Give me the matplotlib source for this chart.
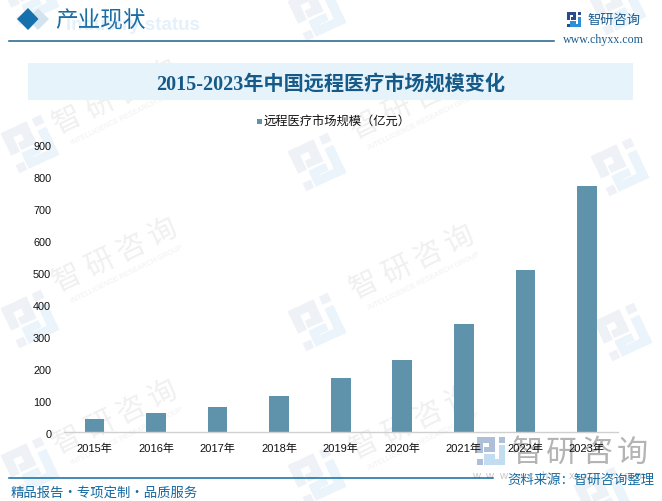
import math
import matplotlib
matplotlib.use("Agg")
import matplotlib.pyplot as plt
import matplotlib.transforms as mt
from matplotlib.patches import Rectangle, Polygon

years = ["2015年", "2016年", "2017年", "2018年", "2019年", "2020年", "2021年", "2022年", "2023年"]
market_size = [41, 60, 79, 113, 170, 225, 338, 507, 770]
y_ticks = [0, 100, 200, 300, 400, 500, 600, 700, 800, 900]
series_name = "远程医疗市场规模（亿元）"
chart_title = "2015-2023年中国远程医疗市场规模变化"
header = "产业现状"
header_en = "Industry status"
brand = "智研咨询"
brand_en = "INTELLIGENCE RESEARCH GROUP"
footer_left = "精品报告·专项定制·品质服务"
footer_right = "资料来源：智研咨询整理"
site = "www.chyxx.com"

W, H = 662, 502
CJK = ["Noto Sans CJK SC", "DejaVu Sans"]
SERIF = ["Liberation Serif", "Noto Sans CJK SC"]
MIXED = ["Liberation Sans", "Noto Sans CJK SC"]
plt.rcParams["font.family"] = CJK

fig = plt.figure(figsize=(W / 100, H / 100), dpi=100, facecolor="white")

bg = fig.add_axes([0, 0, 1, 1], zorder=0)
bg.set_xlim(0, W)
bg.set_ylim(H, 0)
bg.axis("off")

LOGO_A = [(0, 0, .64, .2), (0, 0, .22, .56), (.42, 0, .22, .54), (.26, .36, .38, .18), (.78, 0, .22, .2), (0, .8, .2, .2)]
LOGO_B = [(.78, .3, .22, .7), (.24, .8, .76, .2), (.24, .62, .2, .3), (.24, .6, .42, .18)]

def logo(cx, cy, side, rot, c1, c2, z=1):
    tr = mt.Affine2D().rotate_deg_around(cx, cy, rot) + bg.transData
    x0, y0 = cx - side / 2, cy - side / 2
    for group, col in ((LOGO_A, c1), (LOGO_B, c2)):
        for x, y, w, h in group:
            bg.add_patch(Rectangle((x0 + x * side, y0 + y * side), w * side, h * side, transform=tr,
                                   fc=col, ec="none", zorder=z))

def spaced(cx, cy, s, step, angle=0, **kw):
    a = math.radians(angle)
    n = len(s)
    for i, ch in enumerate(s):
        d = (i - (n - 1) / 2) * step
        bg.text(cx + d * math.cos(a), cy - d * math.sin(a), ch, rotation=angle,
                rotation_mode="anchor", ha="center", va="center", **kw)

# repeated watermark
logo_spots = [(30, 145), (317, 163), (620, 168), (30, 320), (317, 323), (623, 333),
              (30, 467), (317, 477), (317, 13), (617, 7), (30, -3), (603, 497)]
for x, y in logo_spots:
    logo(x, y, 44, -25, "#eef1f6", "#eaf4fa")
word_spots = [(115, 98), (115, 256), (115, 418), (412, 103), (412, 263), (412, 423)]
for x, y in word_spots:
    spaced(x, y, brand, 35, 26, fontsize=21, color="#f0f0f0", zorder=1)
    bg.text(x + 12, y + 19, brand_en, fontsize=5.2, color="#f0f0f0", rotation=26, rotation_mode="anchor",
            ha="center", va="center", zorder=1, family=["Liberation Sans"])

# header
bg.add_patch(Polygon([(27, 20), (38, 9.5), (49, 20), (38, 31)], fc="#d3e4ee", ec="none", zorder=2))
bg.add_patch(Polygon([(17, 20), (28, 9), (38.5, 20), (28, 31)], fc="#1570ab", ec="none", zorder=3))
bg.text(66, 25.5, header_en, fontsize=13.5, fontweight="bold", color="#e4f1fb", ha="left", va="center",
        family=["Liberation Sans"], zorder=2)
bg.text(55.5, 21.5, header, fontsize=16.3, color="#1a6ea6", ha="left", va="center", zorder=3, family=SERIF)
bg.plot([9, 554], [41.5, 41.5], color="#1c5f8a", lw=1.1, zorder=3)

logo(574, 20.5, 14.5, 0, "#2b4a8e", "#2f8fd6", z=3)
bg.text(614, 20.5, brand, fontsize=9.5, color="#1a5c8f", ha="center", va="center", zorder=3)
bg.text(603, 40, site, fontsize=8.6, color="#1a5c8f", ha="center", va="center", family=SERIF, zorder=3)

# title band
bg.add_patch(Rectangle((28, 64), 605, 37, fc="#e6f3fb", ec="none", zorder=2))
bg.text(330.5, 85, chart_title, fontsize=14.5, fontweight="bold", color="#155a88", ha="center", va="center",
        family=SERIF, zorder=3)

# brand stamp and footer
logo(491, 452, 28, 0, "#aebfd8", "#c3ddf0", z=2)
spaced(579.5, 453, brand, 35, 0, fontsize=22.5, color="#b4b4b4", zorder=2)
spaced(558, 476, site, 13.7, 0, fontsize=8, color="#c8c8c8", zorder=2, family=["Liberation Sans"])
bg.plot([9, 493], [478.5, 478.5], color="#0f6aa3", lw=1.1, zorder=3)
bg.text(11, 493, footer_left, fontsize=9.6, color="#1268a2", ha="left", va="center", zorder=3)
bg.text(581, 479.5, footer_right, fontsize=9.6, color="#156aa0", ha="center", va="center", zorder=4)

# legend
bg.add_patch(Rectangle((257, 120), 4.5, 4.5, fc="#5f93ab", ec="none", zorder=3))
bg.text(263, 122, series_name, fontsize=8.85, color="#111111", ha="left", va="center", zorder=3)

# chart
L, R, T, B = 63.7, 617.7, 145, 433
ax = fig.add_axes([L / W, 1 - B / H, (R - L) / W, (B - T) / H], zorder=2)
ax.patch.set_alpha(0)
xs = list(range(len(years)))
ax.bar(xs, market_size, width=0.32, color="#5f93ab", zorder=2)
ax.set_xlim(-0.5, len(years) - 0.5)
ax.set_ylim(0, 900)
ax.set_yticks(y_ticks)
ax.set_xticks(xs, years)
ax.tick_params(axis="both", length=0, labelcolor="#111111")
ax.tick_params(axis="x", pad=8, labelsize=8)
ax.tick_params(axis="y", pad=9, labelsize=7.8)
for lab in ax.get_xticklabels() + ax.get_yticklabels():
    lab.set_family(MIXED)
shift_down = mt.ScaledTranslation(0, -1 / 100, fig.dpi_scale_trans)
for lab in ax.get_yticklabels():
    lab.set_transform(lab.get_transform() + shift_down)
for s in ["top", "right", "left"]:
    ax.spines[s].set_visible(False)
ax.spines["bottom"].set_color("#d0d0d0")
ax.spines["bottom"].set_linewidth(1)

fig.savefig("out.png", dpi=100, facecolor="white")
